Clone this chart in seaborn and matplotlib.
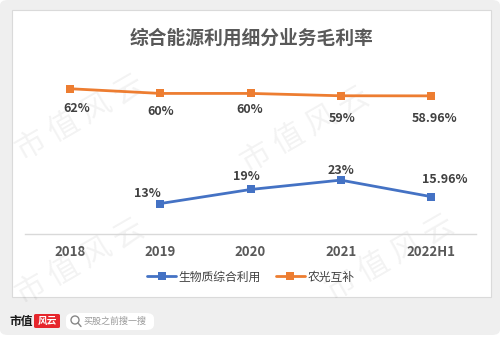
import matplotlib
matplotlib.use("Agg")
import matplotlib.pyplot as plt
from matplotlib.patches import FancyBboxPatch, Rectangle, Ellipse
from matplotlib.lines import Line2D
import seaborn as sns
import pandas as pd

# ---------------- data ----------------
categories = ["2018", "2019", "2020", "2021", "2022H1"]
series_names = ["生物质综合利用", "农光互补"]
biomass_years = ["2019", "2020", "2021", "2022H1"]
biomass_values = [13, 19, 23, 15.96]
biomass_labels = ["13%", "19%", "23%", "15.96%"]
agri_pv_years = ["2018", "2019", "2020", "2021", "2022H1"]
agri_pv_values = [62, 60, 60, 59, 58.96]
agri_pv_labels = ["62%", "60%", "60%", "59%", "58.96%"]
title = "综合能源利用细分业务毛利率"

colors = {"生物质综合利用": "#4472C4", "农光互补": "#ED7D31"}

sns.set_theme(style="white")
plt.rcParams["font.family"] = ["Noto Sans CJK SC", "DejaVu Sans"]

W, H = 501, 337
fig = plt.figure(figsize=(W / 100, H / 100), dpi=100, facecolor="white")


def fx(x):
    return x / W


def fy(y):
    return 1 - y / H


# ---------------- background frame ----------------
fig.add_artist(FancyBboxPatch((fx(0), fy(335)), fx(500), 335 / H,
                              boxstyle="round,pad=0,rounding_size=0.016",
                              transform=fig.transFigure, facecolor="#efefef",
                              edgecolor="none", zorder=-3))
fig.add_artist(Rectangle((fx(12), fy(297)), fx(491) - fx(12), (297 - 10) / H,
                         transform=fig.transFigure, facecolor="white",
                         edgecolor="#dadada", linewidth=0.8, zorder=-2))

# watermarks
for cx, cy in [(80, 118), (305, 130), (80, 262), (390, 258)]:
    fig.text(fx(cx), fy(cy), "市 值 风 云", rotation=30, fontsize=22,
             color="#000000", alpha=0.05, ha="center", va="center",
             zorder=-1)

# ---------------- chart ----------------
ax = fig.add_axes([fx(25), fy(234), fx(476) - fx(25), (234 - 70) / H])
ax.patch.set_visible(False)

df = pd.DataFrame({
    "year": biomass_years + agri_pv_years,
    "value": biomass_values + agri_pv_values,
    "series": [series_names[0]] * len(biomass_years) + [series_names[1]] * len(agri_pv_years),
})
df["year"] = pd.Categorical(df["year"], categories=categories, ordered=True)

sns.lineplot(data=df, x="year", y="value", hue="series", hue_order=series_names,
             style="series", style_order=series_names,
             markers={series_names[0]: "s", series_names[1]: "s"}, dashes=False,
             palette=colors, linewidth=2.0, markersize=6, markeredgewidth=0,
             sort=False, ax=ax)

ax.set_xlim(-0.5, 4.5)
ax.set_ylim(0, 70)
ax.set_xticks(range(len(categories)))
ax.set_xticklabels(categories)
ax.set_yticks([])
ax.set_xlabel("")
ax.set_ylabel("")
for s in ["top", "right", "left"]:
    ax.spines[s].set_visible(False)
ax.spines["bottom"].set_color("#d9d9d9")
ax.spines["bottom"].set_linewidth(1.0)
ax.tick_params(axis="x", length=0, pad=8, labelsize=9.5, colors="#595959")
for t in ax.get_xticklabels():
    t.set_fontweight("bold")

# data labels
bio_off = [(-13, 10), (-4, 13), (0, 10), (14, 17)]
for yr, v, lab, (dx, dy) in zip(biomass_years, biomass_values, biomass_labels, bio_off):
    ax.annotate(lab, (categories.index(yr), v), xytext=(dx, dy),
                textcoords="offset pixels", ha="center", va="center",
                fontsize=9, fontweight="bold", color="#404040")
pv_off = [(7, -20), (0, -18), (-1, -16), (1, -23), (4, -23)]
for yr, v, lab, (dx, dy) in zip(agri_pv_years, agri_pv_values, agri_pv_labels, pv_off):
    ax.annotate(lab, (categories.index(yr), v), xytext=(dx, dy),
                textcoords="offset pixels", ha="center", va="center",
                fontsize=9, fontweight="bold", color="#404040")

handles, labels = ax.get_legend_handles_labels()
if ax.get_legend() is not None:
    ax.get_legend().remove()
seen = {}
for h, l in zip(handles, labels):
    if l in series_names:
        seen.setdefault(l, h)
leg_handles = [seen[n] for n in series_names]
ax.legend(leg_handles, series_names, loc="center",
          bbox_to_anchor=(fx(251), fy(277)), bbox_transform=fig.transFigure,
          ncol=2, frameon=False, fontsize=8.5, handlelength=2.4,
          handletextpad=0.25, columnspacing=1.3, labelcolor="#404040")

# title
fig.text(fx(251), fy(38), title, ha="center", va="center", fontsize=13.5,
         fontweight="bold", color="#595959")

# ---------------- footer ----------------
fig.text(fx(10), fy(321), "市值", ha="left", va="center", fontsize=8.5,
         fontweight="bold", color="#1a1a1a")
fig.add_artist(FancyBboxPatch((fx(34), fy(328)), fx(26), 14 / H,
                              boxstyle="round,pad=0,rounding_size=0.004",
                              transform=fig.transFigure, facecolor="#e6262c",
                              edgecolor="none"))
fig.text(fx(47), fy(321), "风云", ha="center", va="center", fontsize=7,
         style="italic", color="white", fontweight="bold")
fig.add_artist(FancyBboxPatch((fx(66), fy(330)), fx(88), 17 / H,
                              boxstyle="round,pad=0,rounding_size=0.016",
                              transform=fig.transFigure, facecolor="white",
                              edgecolor="none"))
fig.add_artist(Ellipse((fx(75), fy(320)), 8 / W, 8 / H, transform=fig.transFigure,
                       facecolor="none", edgecolor="#888888", linewidth=1.0))
fig.add_artist(Line2D([fx(78), fx(81)], [fy(323), fy(326.5)], transform=fig.transFigure,
                      color="#888888", linewidth=1.0))
fig.text(fx(84), fy(321), "买股之前搜一搜", ha="left", va="center", fontsize=6.5,
         color="#9a9a9a")

fig.savefig("out.png", dpi=100, facecolor="white")
